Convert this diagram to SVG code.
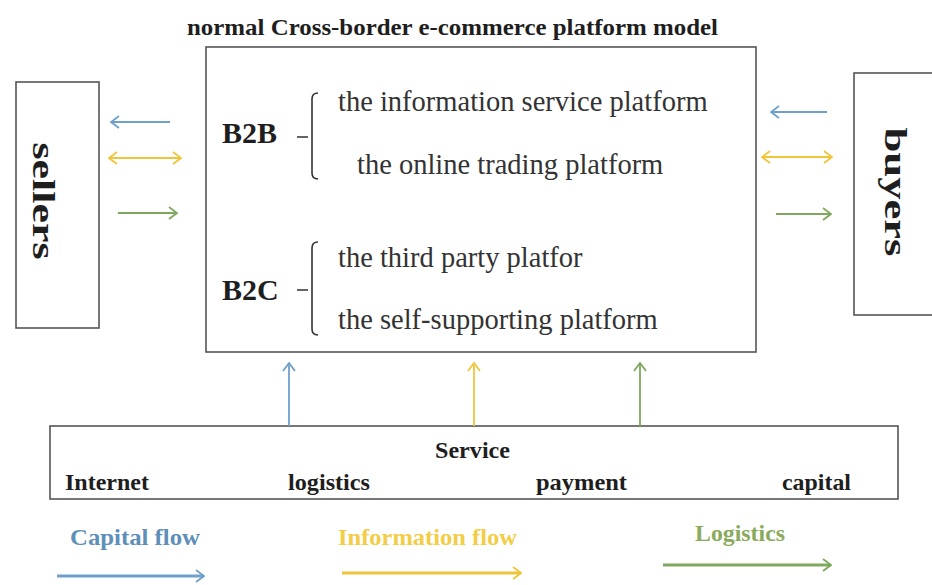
<svg xmlns="http://www.w3.org/2000/svg" width="932" height="585" viewBox="0 0 932 585">
<style>
.box{fill:#fff;stroke:#555;stroke-width:1.6}
.bold{font-family:"Liberation Serif","Times New Roman",serif;font-weight:bold;fill:#1e1e1e}
.reg{font-family:"Liberation Serif","Times New Roman",serif;font-size:28.5px;fill:#333}
.brace{fill:none;stroke:#333;stroke-width:1.6}
.blue{stroke:#6fa0cc;stroke-width:1.8;fill:none}
.yellow{stroke:#f0c53a;stroke-width:1.8;fill:none}
.green{stroke:#7fa85f;stroke-width:1.8;fill:none}
.thick{stroke-width:3}
</style>
<defs>
<marker id="mb" viewBox="0 0 10 14" refX="9" refY="7" markerWidth="10" markerHeight="14" markerUnits="userSpaceOnUse" orient="auto-start-reverse"><path d="M1,1 L9,7 L1,13" fill="none" stroke="#6fa0cc" stroke-width="1.8"/></marker>
<marker id="my" viewBox="0 0 10 14" refX="9" refY="7" markerWidth="10" markerHeight="14" markerUnits="userSpaceOnUse" orient="auto-start-reverse"><path d="M1,1 L9,7 L1,13" fill="none" stroke="#f0c53a" stroke-width="1.8"/></marker>
<marker id="mg" viewBox="0 0 10 14" refX="9" refY="7" markerWidth="10" markerHeight="14" markerUnits="userSpaceOnUse" orient="auto-start-reverse"><path d="M1,1 L9,7 L1,13" fill="none" stroke="#7fa85f" stroke-width="1.8"/></marker>
</defs>
<rect width="932" height="585" fill="#fff"/>
<text class="bold" x="187" y="35" font-size="24" textLength="531" lengthAdjust="spacingAndGlyphs">normal Cross-border e-commerce platform model</text>

<g id="platform">
<rect class="box" x="206" y="47" width="550" height="305"/>
<text class="bold" x="222" y="143" font-size="30">B2B</text>
<path class="brace" d="M297,137 L308,137 M318,93 Q312,93 312,99 L312,173 Q312,179 318,179"/>
<text class="reg" x="338" y="111">the information service platform</text>
<text class="reg" x="357" y="174">the online trading platform</text>
<text class="bold" x="222" y="300" font-size="30">B2C</text>
<path class="brace" d="M297,290 L308,290 M318,242 Q312,242 312,248 L312,329 Q312,335 318,335"/>
<text class="reg" x="338" y="267">the third party platfor</text>
<text class="reg" x="338" y="329">the self-supporting platform</text>
</g>

<g id="sellers">
<rect class="box" x="16" y="82" width="83" height="246"/>
<text class="bold" transform="translate(33,201) rotate(90)" x="0" y="0" font-size="32" text-anchor="middle" textLength="117" lengthAdjust="spacingAndGlyphs">sellers</text>
</g>

<g id="buyers">
<rect class="box" x="854" y="73" width="90" height="242"/>
<text class="bold" transform="translate(885,192) rotate(90)" x="0" y="0" font-size="32" text-anchor="middle" textLength="129" lengthAdjust="spacingAndGlyphs">buyers</text>
</g>

<g id="service">
<rect class="box" x="50" y="426" width="848" height="73"/>
<text class="bold" x="435" y="458" font-size="24" textLength="75" lengthAdjust="spacingAndGlyphs">Service</text>
<text class="bold" x="65" y="490" font-size="24" textLength="84" lengthAdjust="spacingAndGlyphs">Internet</text>
<text class="bold" x="288" y="490" font-size="24" textLength="82" lengthAdjust="spacingAndGlyphs">logistics</text>
<text class="bold" x="536" y="490" font-size="24" textLength="91" lengthAdjust="spacingAndGlyphs">payment</text>
<text class="bold" x="782" y="490" font-size="24" textLength="69" lengthAdjust="spacingAndGlyphs">capital</text>
</g>

<g id="legend">
<text class="bold" x="70" y="545" font-size="24" style="fill:#5e8fb8" textLength="130" lengthAdjust="spacingAndGlyphs">Capital flow</text>
<text class="bold" x="338" y="545" font-size="24" style="fill:#f2cd45" textLength="179" lengthAdjust="spacingAndGlyphs">Information flow</text>
<text class="bold" x="695" y="541" font-size="24" style="fill:#8aaa5c" textLength="90" lengthAdjust="spacingAndGlyphs">Logistics</text>
</g>

<g id="connectors">
<line class="blue" x1="170" y1="122" x2="111" y2="122" marker-end="url(#mb)"/>
<line class="yellow" x1="109" y1="158" x2="181" y2="158" marker-start="url(#my)" marker-end="url(#my)"/>
<line class="green" x1="118" y1="213" x2="177" y2="213" marker-end="url(#mg)"/>
<line class="blue" x1="827" y1="112" x2="771" y2="112" marker-end="url(#mb)"/>
<line class="yellow" x1="762" y1="157" x2="832" y2="157" marker-start="url(#my)" marker-end="url(#my)"/>
<line class="green" x1="776" y1="214" x2="831" y2="214" marker-end="url(#mg)"/>
<line class="blue" x1="289" y1="426" x2="289" y2="363" marker-end="url(#mb)"/>
<line class="yellow" x1="474" y1="426" x2="474" y2="363" marker-end="url(#my)"/>
<line class="green" x1="640" y1="426" x2="640" y2="363" marker-end="url(#mg)"/>
<line class="blue thick" x1="57" y1="576" x2="204" y2="576" marker-end="url(#mb)"/>
<line class="yellow thick" x1="342" y1="573" x2="521" y2="573" marker-end="url(#my)"/>
<line class="green thick" x1="663" y1="565" x2="831" y2="565" marker-end="url(#mg)"/>
</g>
</svg>
